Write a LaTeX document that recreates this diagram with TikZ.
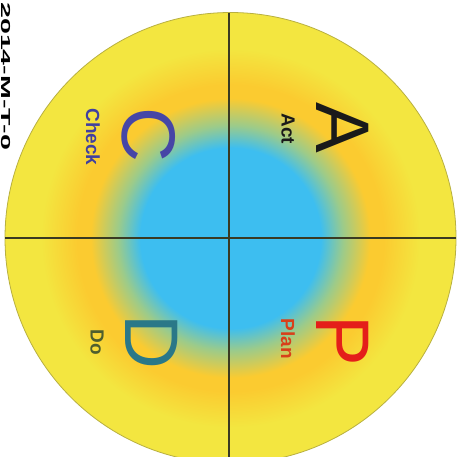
\documentclass[tikz,border=0pt]{standalone}
\usepackage{fontspec}
\setmainfont{Liberation Sans}
\definecolor{cblue}{HTML}{3DBEF0}
\definecolor{cgreen}{HTML}{9CCB8A}
\definecolor{corange}{HTML}{FBCB30}
\definecolor{cyellow}{HTML}{F3E640}
\definecolor{cline}{HTML}{3A3A22}
\definecolor{cedge}{HTML}{B8B040}
\definecolor{cA}{HTML}{1A1A1A}
\definecolor{cP}{HTML}{E41E1A}
\definecolor{cPlan}{HTML}{D8401A}
\definecolor{cC}{HTML}{4646A6}
\definecolor{cCheck}{HTML}{4040A0}
\definecolor{cD}{HTML}{2A7888}
\definecolor{cDo}{HTML}{4E5E2E}
\pgfdeclareradialshading{pdca}{\pgfpoint{0bp}{0bp}}{%
  color(0bp)=(cblue); color(10bp)=(cblue); color(12.5bp)=(cgreen);
  color(15.5bp)=(corange); color(17bp)=(corange); color(21bp)=(cyellow); color(50bp)=(cyellow)}
\tikzset{
  big/.style={font=\fontsize{76}{76}\selectfont, rotate=-90, inner sep=0pt},
  small/.style={font=\bfseries\fontsize{19}{19}\selectfont, rotate=-90, inner sep=0pt},
  divider/.style={draw=cline, line width=1.8pt},
}
\begin{document}
\begin{tikzpicture}[x=1pt,y=-1pt]
\useasboundingbox (0,0) rectangle (466,456);
\clip (0,0) rectangle (466,456);
\fill[white] (0,0) rectangle (466,456);
\coordinate (c) at (230.5,238);
\shade[shading=pdca] (c) circle[radius=225.5];
\draw[cedge, line width=0.8pt] (c) circle[radius=225.5];
\coordinate (top) at (229,12.5);
\coordinate (bot) at (229,470);
\coordinate (lft) at (5,238);
\coordinate (rgt) at (456,238);
\draw[divider] (top) -- (bot);
\draw[divider] (lft) -- (rgt);
\node[big, text=cA] (A) at (343,128) {A};
\node[small, text=cA] (Act) at (288,129) {Act};
\node[big, text=cP] (P) at (343,341) {P};
\node[small, text=cPlan] (Plan) at (288,339) {Plan};
\node[big, text=cC] (C) at (149,135) {C};
\node[small, text=cCheck] (Check) at (93,137) {Check};
\node[big, text=cD] (D) at (152,342) {D};
\node[small, text=cDo] (Do) at (97,342) {Do};
\node[rotate=-90, anchor=north west, inner sep=0pt] (code) at (10.5,2)
  {\scalebox{2.2}[1]{\bfseries\fontsize{13}{13}\selectfont 2014-M-T-0}};
\end{tikzpicture}
\end{document}
